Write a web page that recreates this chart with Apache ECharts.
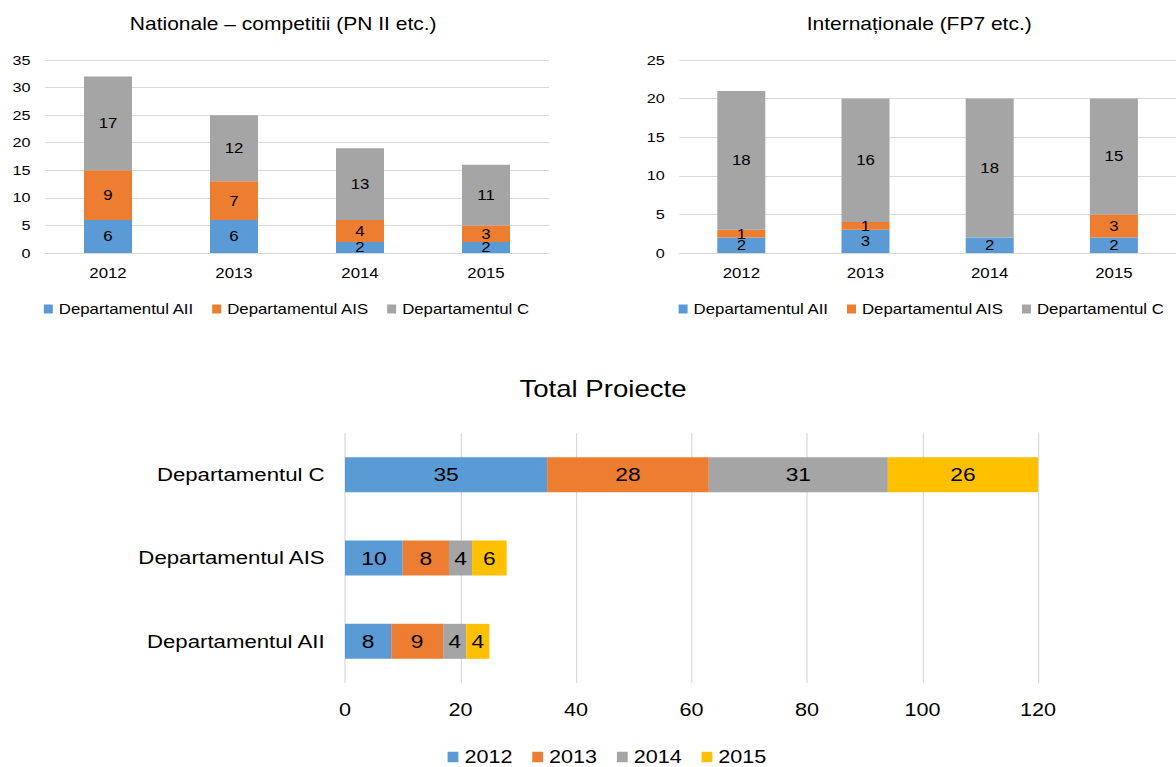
<!DOCTYPE html>
<html>
<head>
<meta charset="utf-8">
<script src="https://cdn.jsdelivr.net/npm/echarts@6/dist/echarts.min.js"></script>
<style>
  html, body { margin: 0; padding: 0; background: #fff; overflow: hidden; }
  /* the chart is laid out 980 wide and widened to the 1176 px page */
  #chart { width: 980px; height: 767px; transform: scaleX(1.2); transform-origin: 0 0; }
</style>
</head>
<body>
<div id="chart"></div>
<script>
const years = ['2012', '2013', '2014', '2015'];
const departments = ['Departamentul AII', 'Departamentul AIS', 'Departamentul C'];

// National competitions (PN II etc.), per department and year
const natAII = [6, 6, 2, 2];
const natAIS = [9, 7, 4, 3];
const natC = [17, 12, 13, 11];

// International projects (FP7 etc.)
const intAII = [2, 3, 2, 2];
const intAIS = [1, 1, 0, 3];
const intC = [18, 16, 18, 15];

// Totals per department (AII, AIS, C) for each year
const tot2012 = [8, 10, 35];
const tot2013 = [9, 8, 28];
const tot2014 = [4, 4, 31];
const tot2015 = [4, 6, 26];

const colors = ['#5b9bd5', '#ed7d31', '#a5a5a5', '#ffc000'];
const FONT = "'Liberation Sans', Arial, sans-serif";
const GRID_LINE = '#d9d9d9';

function hideZero(p) { return p.value ? String(p.value) : ''; }

function columnSeries(name, data, axis, color) {
  return {
    name, type: 'bar', stack: 'col' + axis, data,
    xAxisIndex: axis, yAxisIndex: axis,
    barWidth: 40,
    itemStyle: { color },
    label: { show: true, position: 'inside', color: '#000', fontSize: 14, fontFamily: FONT, formatter: hideZero }
  };
}

function barSeries(name, data, color) {
  return {
    name, type: 'bar', stack: 'total', data,
    xAxisIndex: 2, yAxisIndex: 2,
    barWidth: 35,
    itemStyle: { color },
    label: { show: true, position: 'inside', color: '#000', fontSize: 19, fontFamily: FONT, formatter: hideZero }
  };
}

function valueAxisY(max) {
  return {
    type: 'value', min: 0, max, interval: 5,
    axisLine: { show: false }, axisTick: { show: false },
    axisLabel: { color: '#000', fontSize: 13.5, fontFamily: FONT, margin: 12 },
    splitLine: { lineStyle: { color: GRID_LINE, width: 1 } }
  };
}

function categoryAxisX(grid) {
  return {
    type: 'category', data: years, gridIndex: grid,
    axisLine: { lineStyle: { color: GRID_LINE, width: 1 } }, axisTick: { show: false },
    axisLabel: { color: '#000', fontSize: 14, fontFamily: FONT, margin: 13 }
  };
}

const legendText = (size) => ({ color: '#000', fontSize: size, fontFamily: FONT });

const option = {
  animation: false,
  backgroundColor: '#fff',
  title: [
    { text: 'Nationale – competitii (PN II etc.)', left: 236, top: 15, textAlign: 'center', padding: 0,
      textStyle: { color: '#000', fontSize: 17.5, fontWeight: 'normal', fontFamily: FONT } },
    { text: 'Internaționale (FP7 etc.)', left: 766, top: 15, textAlign: 'center', padding: 0,
      textStyle: { color: '#000', fontSize: 17.5, fontWeight: 'normal', fontFamily: FONT } },
    { text: 'Total Proiecte', left: 502.5, top: 377, textAlign: 'center', padding: 0,
      textStyle: { color: '#000', fontSize: 23, fontWeight: 'normal', fontFamily: FONT } }
  ],
  legend: [
    { data: departments, left: 36.5, top: 302, padding: 0, icon: 'rect', itemWidth: 7.5, itemHeight: 9, itemGap: 15,
      textStyle: legendText(14), selectedMode: false },
    { data: departments, left: 565.5, top: 302, padding: 0, icon: 'rect', itemWidth: 7.5, itemHeight: 9, itemGap: 15,
      textStyle: legendText(14), selectedMode: false },
    { data: years, left: 373, top: 748, padding: 0, icon: 'rect', itemWidth: 9, itemHeight: 10.5, itemGap: 16.5,
      textStyle: legendText(18), selectedMode: false }
  ],
  grid: [
    { left: 37.5, top: 60, width: 420, height: 193 },
    { left: 566, top: 60, width: 420, height: 193 },
    { left: 287.5, top: 433, width: 577.5, height: 250 }
  ],
  xAxis: [
    categoryAxisX(0),
    categoryAxisX(1),
    {
      type: 'value', gridIndex: 2, min: 0, max: 120, interval: 20,
      axisLine: { show: false }, axisTick: { show: false },
      axisLabel: { color: '#000', fontSize: 18, fontFamily: FONT, margin: 18 },
      splitLine: { lineStyle: { color: GRID_LINE, width: 1 } }
    }
  ],
  yAxis: [
    Object.assign(valueAxisY(35), { gridIndex: 0 }),
    Object.assign(valueAxisY(25), { gridIndex: 1 }),
    {
      type: 'category', gridIndex: 2, data: departments,
      axisLine: { show: false }, axisTick: { show: false },
      axisLabel: { color: '#000', fontSize: 18.5, fontFamily: FONT, margin: 17 }
    }
  ],
  series: [
    columnSeries('Departamentul AII', natAII, 0, colors[0]),
    columnSeries('Departamentul AIS', natAIS, 0, colors[1]),
    columnSeries('Departamentul C', natC, 0, colors[2]),
    columnSeries('Departamentul AII', intAII, 1, colors[0]),
    columnSeries('Departamentul AIS', intAIS, 1, colors[1]),
    columnSeries('Departamentul C', intC, 1, colors[2]),
    barSeries('2012', tot2012, colors[0]),
    barSeries('2013', tot2013, colors[1]),
    barSeries('2014', tot2014, colors[2]),
    barSeries('2015', tot2015, colors[3])
  ]
};

const chart = echarts.init(document.getElementById('chart'), null, { renderer: 'svg' });
chart.setOption(option);
</script>
</body>
</html>
